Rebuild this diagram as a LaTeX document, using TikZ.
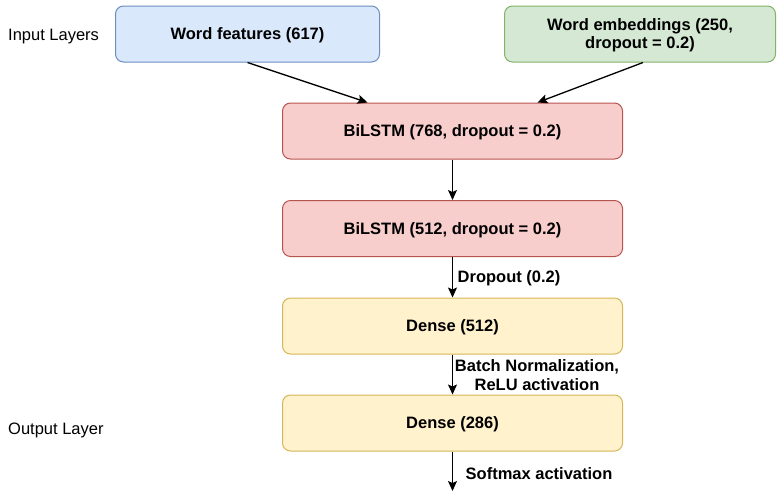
\documentclass[tikz,border=0pt]{standalone}
\usepackage{fontspec}
\setmainfont{Liberation Sans}
\usetikzlibrary{arrows.meta}
\definecolor{bluefill}{HTML}{DAE8FC}\definecolor{bluedraw}{HTML}{6C8EBF}
\definecolor{greenfill}{HTML}{D5E8D4}\definecolor{greendraw}{HTML}{82B366}
\definecolor{redfill}{HTML}{F8CECC}\definecolor{reddraw}{HTML}{B85450}
\definecolor{yelfill}{HTML}{FFF2CC}\definecolor{yeldraw}{HTML}{D6B656}
\begin{document}
\begin{tikzpicture}[x=1pt,y=-1pt,
  layerbox/.style={rounded corners=8pt, line width=1pt, inner sep=0pt, minimum height=56pt,
    text depth=0pt, align=center, font=\fontsize{16.5}{18}\selectfont\bfseries},
  conn/.style={line width=1.3pt, -{Stealth[length=10pt,width=9pt,inset=2pt]}},
  edgelbl/.style={font=\fontsize{16.5}{19}\selectfont\bfseries, inner sep=0pt, align=center},
  sidelbl/.style={font=\fontsize{16.5}{19}\selectfont, inner sep=0pt, anchor=west}]
\useasboundingbox (0,0) rectangle (778,491);
\node[layerbox, fill=bluefill, draw=bluedraw, minimum width=264pt] (wf) at (247.5,34) {Word features (617)};
\node[layerbox, fill=greenfill, draw=greendraw, minimum width=271pt] (we) at (640,34) {Word embeddings (250,\\dropout = 0.2)};
\node[layerbox, fill=redfill, draw=reddraw, minimum width=340pt] (bl1) at (452.5,131) {BiLSTM (768, dropout = 0.2)};
\node[layerbox, fill=redfill, draw=reddraw, minimum width=340pt] (bl2) at (452.5,228.5) {BiLSTM (512, dropout = 0.2)};
\node[layerbox, fill=yelfill, draw=yeldraw, minimum width=340pt] (d1) at (452.5,326) {Dense (512)};
\node[layerbox, fill=yelfill, draw=yeldraw, minimum width=340pt] (d2) at (452.5,423) {Dense (286)};
\coordinate (out) at (452.5,491);
\node[sidelbl] (inl) at (8,37) {Input Layers};
\node[sidelbl] (outl) at (8,430) {Output Layer};
\draw[conn] (wf.south) -- ([xshift=-85pt]bl1.north);
\draw[conn] ([xshift=3pt]we.south) -- ([xshift=85pt]bl1.north);
\draw[conn] (bl1) -- (bl2);
\draw[conn] (bl2) -- (d1);
\draw[conn] (d1) -- (d2);
\draw[conn] (d2) -- (out);
\node[edgelbl, anchor=west] (l1) at (457.5,278.5) {Dropout (0.2)};
\node[edgelbl] (l2) at (537,375) {Batch Normalization,\\ReLU activation};
\node[edgelbl, anchor=west] (l3) at (465.5,473.5) {Softmax activation};
\end{tikzpicture}
\end{document}
